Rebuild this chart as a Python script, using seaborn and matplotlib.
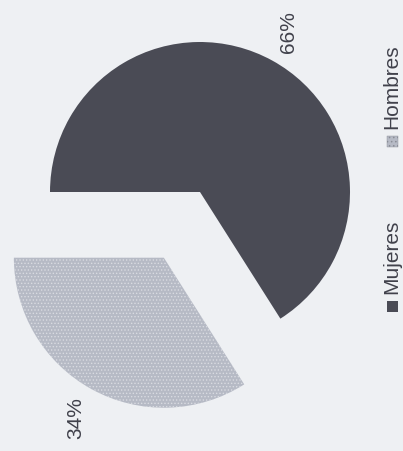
import matplotlib
matplotlib.use("Agg")
import matplotlib.pyplot as plt
import seaborn as sns
from matplotlib.patches import Rectangle

# Datos del gráfico
categorias = ["Mujeres", "Hombres"]
porcentajes = [66, 34]
etiquetas = ["66%", "34%"]

sns.set_theme(style="white")
plt.rcParams['font.family'] = ['Liberation Sans', 'DejaVu Sans']
plt.rcParams['hatch.linewidth'] = 0.6

fondo = '#eef0f3'
colores = ['#4a4b55', '#b6bac5']
texto = '#40414b'

fig = plt.figure(figsize=(4.03, 4.51), dpi=100, facecolor=fondo)
ax = fig.add_axes([0, 0, 1, 1])
ax.set_facecolor(fondo)

wedges, textos, pcts = ax.pie(
    porcentajes,
    colors=colores,
    startangle=180,
    counterclock=False,
    explode=[0, 0.5],
    radius=1,
    autopct=lambda p: f"{p:.0f}%",
    pctdistance=1.22,
    textprops={'fontsize': 15, 'color': texto, 'rotation': 90},
    wedgeprops={'linewidth': 0},
)
wedges[1].set_hatch('.....')
wedges[1].set_edgecolor('#d9dbe1')
wedges[1].set_linewidth(0)

# Leyenda girada (como en la hoja escaneada)
ax.add_patch(Rectangle((1.245, -0.80), 0.075, 0.075, facecolor=colores[0], edgecolor='none'))
ax.text(1.28, -0.68, categorias[0], rotation=90, fontsize=15, color=texto,
        ha='center', va='bottom')
ax.add_patch(Rectangle((1.245, 0.30), 0.075, 0.075, facecolor=colores[1], edgecolor='#8a8d96',
                       hatch='....', linewidth=0.3))
ax.text(1.28, 0.42, categorias[1], rotation=90, fontsize=15, color=texto,
        ha='center', va='bottom')

ax.set_xlim(-200 / 150, 203 / 150)
ax.set_ylim(-259 / 150, 192 / 150)
ax.set_aspect('equal')
ax.axis('off')

fig.savefig('out.png', dpi=100, facecolor=fondo)
